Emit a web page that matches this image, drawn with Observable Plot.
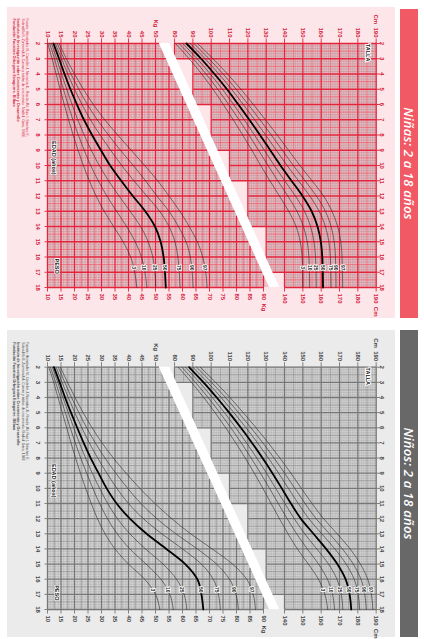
<!DOCTYPE html>
<html><head><meta charset="utf-8">
<script src="https://cdn.jsdelivr.net/npm/d3@7"></script>
<script src="https://cdn.jsdelivr.net/npm/@observablehq/plot@0.6"></script>
<style>
html,body{margin:0;padding:0;background:#fff;width:424px;height:639px;overflow:hidden;}
#page{position:absolute;left:0;top:0;width:639px;height:424px;transform-origin:0 0;transform:translate(424px,0) rotate(90deg);}
.hdr{position:absolute;color:#fff;font-family:"Open Sans",sans-serif;font-style:italic;font-weight:600;font-size:13px;display:flex;align-items:center;justify-content:center;letter-spacing:0.2px;}
.panel{position:absolute;}
.panel svg{display:block;max-width:none;overflow:visible;}
</style></head><body><div id="page"></div>
<script>
// ---------- data ----------
const ages = [2,3,4,5,6,7,8,9,10,11,12,13,14,15,16,17,18];
const percentiles = [3,10,25,50,75,90,97];

const ninasPeso = [
  [10.1,11.7,13.2,14.7,16.2,17.8,19.5,21.3,23.3,25.5,28.0,31.0,34.5,38.0,40.8,42.3,43.1],
  [10.8,12.6,14.2,15.9,17.6,19.4,21.4,23.6,26.0,28.8,32.0,35.6,39.3,42.5,44.8,46.1,46.8],
  [11.5,13.4,15.2,17.1,19.1,21.2,23.6,26.2,29.2,32.6,36.5,40.6,44.5,47.3,49.0,49.8,50.1],
  [12.2,14.3,16.3,18.5,20.9,23.5,26.5,29.8,33.2,37.3,41.6,46.2,49.8,51.9,53.0,53.5,53.8],
  [12.9,15.2,17.5,20.0,22.8,25.9,29.5,33.4,37.5,42.0,46.8,51.5,55.0,57.2,58.3,58.8,59.1],
  [13.6,16.1,18.7,21.6,24.8,28.4,32.6,37.0,41.8,46.3,50.5,55.0,58.5,61.3,62.9,63.6,63.9],
  [14.3,17.0,20.0,23.3,27.0,31.2,36.0,41.0,46.0,50.8,55.0,59.0,62.5,65.5,67.5,68.6,69.1]
];
const ninasTalla = [
  [80.5,88.0,94.8,101.0,106.6,112.0,117.2,122.2,127.0,132.0,137.2,142.3,146.3,148.6,149.6,149.9,150.0],
  [82.5,90.2,97.2,103.6,109.5,115.2,120.6,125.8,131.0,136.3,141.8,146.8,150.3,152.4,153.3,153.6,153.7],
  [84.5,92.3,99.5,106.1,112.2,118.0,123.6,129.0,134.4,140.1,145.9,150.9,154.2,156.1,156.9,157.2,157.3],
  [86.5,94.5,101.8,108.6,114.8,120.8,126.6,132.2,137.8,143.8,149.8,154.8,158.0,159.8,160.6,160.9,161.0],
  [88.5,96.7,104.2,111.1,117.5,123.7,129.7,135.5,141.4,147.6,153.8,158.9,162.3,164.2,165.0,165.3,165.4],
  [90.5,98.8,106.5,113.6,120.2,126.6,132.8,138.8,144.8,151.2,157.4,162.3,165.4,167.1,167.8,168.0,168.1],
  [92.5,101.0,108.9,116.2,123.0,129.6,136.0,142.2,148.4,155.0,161.3,165.9,169.0,170.7,171.4,171.6,171.7]
];
const ninosPeso = [
  [10.5,12.3,13.9,15.5,17.1,18.7,20.4,22.2,24.1,26.2,28.5,31.3,35.0,40.0,46.0,50.0,51.6],
  [11.1,13.0,14.8,16.6,18.4,20.3,22.3,24.5,26.8,29.3,32.2,35.8,40.5,46.5,52.0,55.3,56.6],
  [11.8,13.8,15.7,17.7,19.7,21.8,24.1,26.6,29.3,32.3,35.9,40.5,46.3,52.8,57.8,60.6,61.6],
  [12.4,14.5,16.5,18.7,21.0,23.4,26.0,28.9,31.9,35.6,40.5,46.7,54.0,61.0,65.5,67.0,67.7],
  [13.2,15.4,17.7,20.1,22.7,25.5,28.6,32.0,35.7,40.0,45.5,52.3,60.0,67.0,71.4,73.3,74.0],
  [14.0,16.4,18.9,21.6,24.5,27.7,31.3,35.3,39.7,44.6,50.5,57.5,65.5,72.6,77.4,79.8,80.7],
  [14.8,17.4,20.2,23.2,26.5,30.2,34.4,39.1,44.2,49.8,56.0,63.0,71.0,78.5,83.8,86.2,87.0]
];
const ninosTalla = [
  [82.0,89.2,95.9,102.1,107.9,113.4,118.6,123.5,128.2,132.7,137.2,141.9,147.0,153.0,158.5,162.0,163.6],
  [84.0,91.4,98.3,104.7,110.7,116.4,121.8,126.9,131.8,136.6,141.4,146.6,152.4,158.6,163.4,166.2,167.3],
  [86.0,93.6,100.6,107.2,113.4,119.3,124.9,130.2,135.2,140.2,145.3,151.0,157.6,164.0,168.6,171.0,171.8],
  [88.0,95.8,103.0,109.8,116.2,122.3,128.0,133.4,138.5,143.5,148.9,155.8,162.7,168.8,173.3,175.5,176.4],
  [90.0,98.0,105.4,112.4,119.0,125.3,131.2,136.8,142.1,147.5,153.2,160.3,167.5,173.6,178.0,180.2,181.0],
  [92.0,100.2,107.8,114.9,121.7,128.2,134.3,140.1,145.6,151.2,157.2,164.5,171.6,177.5,181.7,183.8,184.6],
  [94.0,102.4,110.2,117.5,124.5,131.2,137.5,143.5,149.2,155.0,161.3,168.7,175.8,181.4,185.4,187.4,188.2]
];

const kgTicksLeft = [10,15,20,25,30,35,40,45,50];
const cmTicksLeft = [80,90,100,110,120,130,140,150,160,170,180,190];
const kgTicksRight = [10,15,20,25,30,35,40,45,50,55,60,65,70,75,80,85,90];
const cmTicksRight = [140,150,160,170,180,190];

const titles = ["Niñas: 2 a 18 años", "Niños: 2 a 18 años"];
const creditLines = [
  "Fuente: Hernández M, Castellet J, Narvaíza JL, Rincón JM, Ruiz I, Sánchez E,",
  "Sobradillo B, Zurimendi A. Curvas y tablas de crecimiento. Madrid: Garsi, 1988."
];
const creditBold = [
  "Instituto de Investigación sobre Crecimiento y Desarrollo",
  "Fundación Faustino Orbegozo Eizaguirre. Bilbao"
];

// ---------- layout helpers ----------
const PX_KG = 2.7, PX_CM = 1.833;
const PLOT_H = 388, MB = 41;
const Y10 = PLOT_H - MB;
const Y100CM = 183.3;
const kgEq = cm => 10 + (Y10 - Y100CM + (cm - 100) * PX_CM) / PX_KG;
const yTop = kgEq(190);
const MT = Y10 - (yTop - 10) * PX_KG;

function interp(arr, t) {
  const i = Math.min(Math.floor(t) - 2, 15);
  const f = t - (i + 2);
  return arr[i] + (arr[i + 1] - arr[i]) * f;
}

function buildPanel(o) {
  const th = o.theme;
  const lo0 = 51.1, lo1 = 91.9;
  const BLo = t => lo0 + (lo1 - lo0) * (t - 2) / 16;        // band lower edge (kg)
  const AHi = t => 76.8 + (136.8 - 76.8) * (t - 2) / 16;   // band upper edge (cm)
  const tAtKg = k => Math.max(2, 2 + (k - lo0) * 16 / (lo1 - lo0));
  const cols = d3.range(2, 18);
  const Hbot = a => Math.ceil(AHi(a) / 10) * 10;

  const kgLines = [];
  for (let k = 10; k <= 90.001; k += 0.5) {
    const kind = k % 5 === 0 ? "major" : (k % 5 === 2.5 ? "mid" : (Number.isInteger(k) ? "fine" : null));
    if (!kind) continue;
    kgLines.push({y: k, x1: tAtKg(k), x2: 18, kind});
  }
  const cmLines = [];
  for (let c = 80; c <= 190; c += 1) {
    const kind = c % 10 === 0 ? "major" : (c % 5 === 0 ? "mid" : "fine");
    const ok = cols.filter(a => Hbot(a) <= c);
    if (!ok.length) continue;
    cmLines.push({y: kgEq(c), x1: 2, x2: d3.max(ok) + 1, kind});
  }
  const ageLinesW = [], ageLinesH = [];
  for (let i = 0; i <= 96; i++) {
    const t = 2 + i / 6;
    const kind = i % 6 === 0 ? "major" : (i % 6 === 3 ? "mid" : "fine");
    ageLinesW.push({x: t, y1: 10, y2: Math.min(90, BLo(t)), kind});
    let colH = (i % 6 === 0 && t > 2) ? Math.round(t) - 1 : Math.floor(t + 1e-9);
    colH = Math.min(colH, 17);
    ageLinesH.push({x: t, y1: kgEq(Hbot(colH)), y2: yTop, kind});
  }
  const allH = kgLines.concat(cmLines);
  const allV = ageLinesW.concat(ageLinesH);
  const styles = {fine: [th.fine, 0.4], mid: [th.mid, 0.65], major: [th.major, 1.3]};
  const gridMarks = ["fine", "mid", "major"].flatMap(kind => [
    Plot.ruleY(allH.filter(d => d.kind === kind), {y: "y", x1: "x1", x2: "x2", stroke: styles[kind][0], strokeWidth: styles[kind][1]}),
    Plot.ruleX(allV.filter(d => d.kind === kind), {x: "x", y1: "y1", y2: "y2", stroke: styles[kind][0], strokeWidth: styles[kind][1]})
  ]);

  const rows = [];
  percentiles.forEach((p, j) => {
    ages.forEach((a, i) => {
      rows.push({age: a, v: o.peso[j][i], p, s: "w" + p});
      rows.push({age: a, v: kgEq(o.talla[j][i]), p, s: "h" + p});
    });
  });
  const labAge = 16.7;
  const pLabels = percentiles.flatMap((p, j) => [
    {x: labAge, y: interp(o.peso[j], labAge), t: String(p)},
    {x: labAge, y: kgEq(interp(o.talla[j], labAge)), t: String(p)}
  ]);

  const leftLabels = kgTicksLeft.map(k => ({y: k, t: k === 50 ? "Kg  50" : String(k)}))
    .concat(cmTicksLeft.map(c => ({y: kgEq(c), t: c === 190 ? "Cm  190" : String(c)})));
  const rightLabels = kgTicksRight.map(k => ({y: k, t: k === 90 ? "90  Kg" : String(k)}))
    .concat(cmTicksRight.map(c => ({y: kgEq(c), t: c === 190 ? "190  Cm" : String(c)})));

  const txt = {fontSize: 6, fontWeight: "bold", fill: th.label};
  const band = [{t: 2, lo: BLo(2), hi: kgEq(AHi(2))}, {t: 18, lo: BLo(18), hi: kgEq(AHi(18))}];
  const wFill = [{t: 2, top: BLo(2)}, {t: 18, top: BLo(18)}];

  const marks = [
    Plot.areaY(wFill, {x: "t", y1: () => 10, y2: "top", fill: th.cell}),
    Plot.rect(cols, {x1: a => a, x2: a => a + 1, y1: a => kgEq(Hbot(a)), y2: () => yTop, fill: th.cell}),
    ...gridMarks,
    Plot.areaY(band, {x: "t", y1: "lo", y2: "hi", fill: th.band}),
    Plot.ruleY(leftLabels, {y: "y", x1: () => 1.7, x2: () => 2, stroke: th.major, strokeWidth: 0.9}),
    Plot.ruleY(rightLabels, {y: "y", x1: () => 18, x2: () => 18.3, stroke: th.major, strokeWidth: 0.9}),
    Plot.ruleX(ages, {x: d => d, y1: () => 8.7, y2: () => 10, stroke: th.major, strokeWidth: 0.9}),
    Plot.ruleX(ages, {x: d => d, y1: () => yTop, y2: () => yTop + 1.3, stroke: th.major, strokeWidth: 0.9}),
    Plot.line(rows.filter(d => d.p !== 50), {x: "age", y: "v", z: "s", stroke: "#2a2a2a", strokeWidth: 0.6, curve: "monotone-x"}),
    Plot.line(rows.filter(d => d.p === 50), {x: "age", y: "v", z: "s", stroke: "#000", strokeWidth: 1.8, curve: "monotone-x"}),
    Plot.text(pLabels, {x: "x", y: "y", text: "t", fontSize: 5, fontWeight: "bold", fill: "#222", stroke: "#fff", strokeWidth: 1.8}),
    Plot.text(leftLabels, {x: () => 2, y: "y", text: "t", textAnchor: "end", dx: -6, ...txt}),
    Plot.text(rightLabels, {x: () => 18, y: "y", text: "t", textAnchor: "start", dx: 6, ...txt}),
    Plot.text(ages, {x: d => d, y: () => 10, text: d => String(d), dy: 10, ...txt}),
    Plot.text(ages, {x: d => d, y: () => yTop, text: d => String(d), dy: -6, ...txt}),
    Plot.text(["TALLA"], {x: () => 2.6, y: () => kgEq(185.3), text: d => d, fontSize: 5.5, fontWeight: "bold", fill: "#111", stroke: "#fff", strokeWidth: 2}),
    Plot.text(["EDAD (años)"], {x: () => 9.5, y: () => 12.2, text: d => d, fontSize: 5.5, fontWeight: "bold", fill: "#111", stroke: "#fff", strokeWidth: 1.5}),
    Plot.text(["PESO"], {x: () => o.pesoAge, y: () => 13.3, text: d => d, fontSize: 5.5, fontWeight: "bold", fill: "#111", stroke: "#fff", strokeWidth: 1.5})
  ];
  creditLines.forEach((l, i) => marks.push(Plot.text([l], {x: () => 2, y: () => 10, text: d => d, dx: -25, dy: 20 + i * 4.2, textAnchor: "start", fontSize: 3.4, fill: th.label})));
  creditBold.forEach((l, i) => marks.push(Plot.text([l], {x: () => 2, y: () => 10, text: d => d, dx: -25, dy: 29 + i * 4.6, textAnchor: "start", fontSize: 3.8, fontWeight: "bold", fill: th.label})));

  return Plot.plot({
    width: o.w, height: PLOT_H,
    marginLeft: o.mL, marginRight: o.mR, marginTop: MT, marginBottom: MB,
    x: {domain: [2, 18], axis: null},
    y: {domain: [10, yTop], axis: null},
    style: {background: "transparent", fontFamily: "Liberation Sans, Arial, sans-serif", overflow: "visible"},
    marks
  });
}

const page = document.getElementById("page");
const themes = [
  {hdr: "#f15965", bg: "#fde6e9", cell: "#efc0c7", fine: "#a98990", mid: "#e9505f", major: "#e2243c", band: "#ffffff", label: "#d3203a"},
  {hdr: "#686868", bg: "#ebebeb", cell: "#d6d6d6", fine: "#a3a3a3", mid: "#868686", major: "#767676", band: "#ffffff", label: "#444"}
];
const panels = [
  {left: 7, w: 311, mL: 36, mR: 31, peso: ninasPeso, talla: ninasTalla, pesoAge: 16.6, hdrLeft: 9, hdrW: 309},
  {left: 330, w: 307, mL: 36.7, mR: 28, peso: ninosPeso, talla: ninosTalla, pesoAge: 16.9, hdrLeft: 330, hdrW: 307}
];
panels.forEach((p, i) => {
  const th = themes[i];
  const hdr = document.createElement("div");
  hdr.className = "hdr";
  Object.assign(hdr.style, {left: p.hdrLeft + "px", top: "6px", width: p.hdrW + "px", height: "18px", background: th.hdr});
  hdr.textContent = titles[i];
  page.appendChild(hdr);
  const box = document.createElement("div");
  box.className = "panel";
  Object.assign(box.style, {left: p.left + "px", top: "29px", width: p.w + "px", height: PLOT_H + "px", background: th.bg});
  box.appendChild(buildPanel({...p, theme: th}));
  page.appendChild(box);
});
</script>
</body></html>
